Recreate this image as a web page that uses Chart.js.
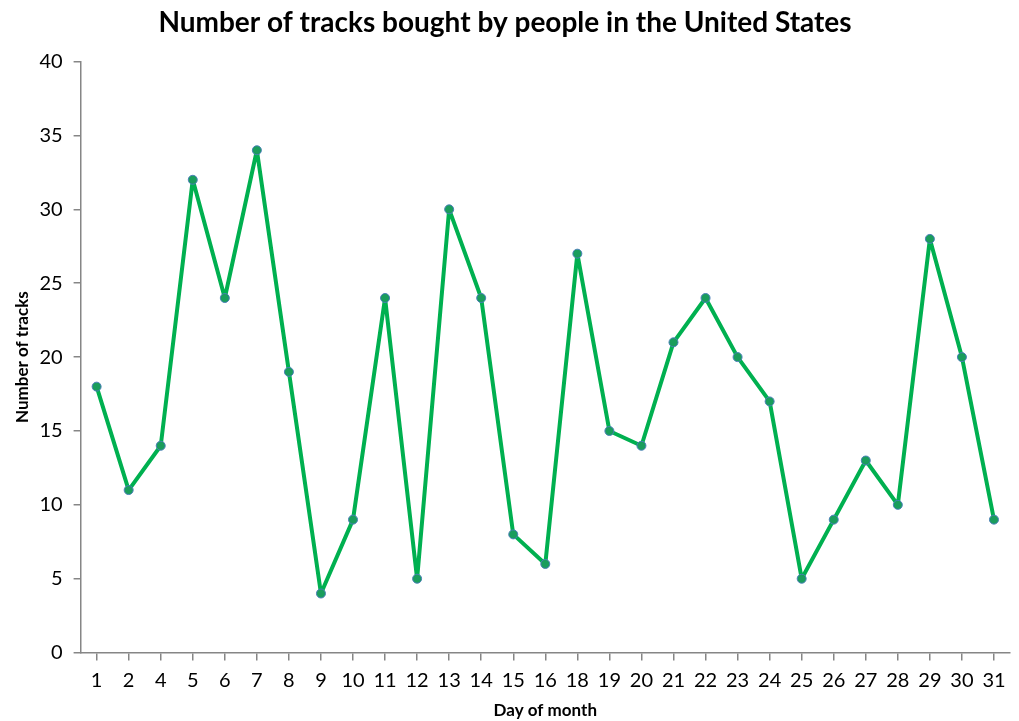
<!DOCTYPE html>
<html>
<head>
<meta charset="utf-8">
<script src="https://cdn.jsdelivr.net/npm/chart.js@4/dist/chart.umd.min.js"></script>
<style>
  html, body { margin: 0; padding: 0; background: #fff; }
  #wrap { width: 1019px; height: 721px; }
</style>
</head>
<body>
<div id="wrap"><canvas id="tracks-chart"></canvas></div>
<script>
// Days shown on the x axis (3 and 17 are absent in the source)
const days = ['1', '2', '4', '5', '6', '7', '8', '9', '10', '11', '12', '13', '14', '15', '16',
    '18', '19', '20', '21', '22', '23', '24', '25', '26', '27', '28', '29', '30', '31'];
const tracks = [18, 11, 14, 32, 24, 34, 19, 4, 9, 24, 5, 30, 24, 8, 6,
    27, 15, 14, 21, 24, 20, 17, 5, 9, 13, 10, 28, 20, 9];
const yTicks = [0, 5, 10, 15, 20, 25, 30, 35, 40];

const axisColor = '#868686';
const fontFamily = "Lato, 'Open Sans', sans-serif";

Chart.defaults.font.family = fontFamily;
Chart.defaults.color = '#000';

new Chart(document.getElementById('tracks-chart').getContext('2d'), {
    type: 'line',
    data: {
        labels: days,
        datasets: [{
            label: 'Tracks',
            data: tracks,
            borderColor: '#00b050',
            borderWidth: 4,
            borderJoinStyle: 'round',
            tension: 0,
            pointRadius: 4.5,
            pointBackgroundColor: '#1a9d5c',
            pointBorderColor: '#4a7fb8',
            pointBorderWidth: 1
        }]
    },
    options: {
        responsive: true,
        maintainAspectRatio: false,
        animation: false,
        layout: { padding: { top: 6, right: 9, bottom: 0, left: 0 } },
        plugins: {
            legend: { display: false },
            tooltip: { enabled: false },
            title: {
                display: true,
                text: 'Number of tracks bought by people in the United States',
                font: { size: 28, weight: 'bold' },
                color: '#000',
                padding: { top: 0, bottom: 22 }
            }
        },
        scales: {
            x: {
                offset: true,
                grid: {
                    drawOnChartArea: false,
                    drawTicks: true,
                    tickLength: 8,
                    color: axisColor,
                    lineWidth: 1.5
                },
                border: { color: axisColor, width: 1.5 },
                ticks: {
                    autoSkip: false,
                    maxRotation: 0,
                    font: { size: 20 },
                    padding: 8
                },
                title: {
                    display: true,
                    text: 'Day of month',
                    font: { size: 17, weight: 'bold' },
                    padding: { top: 0, bottom: 0 }
                }
            },
            y: {
                min: 0,
                max: 40,
                afterBuildTicks: (axis) => {
                    axis.ticks = yTicks.map(v => ({ value: v }));
                },
                grid: {
                    drawOnChartArea: false,
                    drawTicks: true,
                    tickLength: 7,
                    color: axisColor,
                    lineWidth: 1.5
                },
                border: { color: axisColor, width: 1.5 },
                ticks: {
                    font: { size: 20 },
                    padding: 11
                },
                title: {
                    display: true,
                    text: 'Number of tracks',
                    font: { size: 17, weight: 'bold' },
                    padding: { top: 12, bottom: -4 }
                }
            }
        }
    }
});
</script>
</body>
</html>
